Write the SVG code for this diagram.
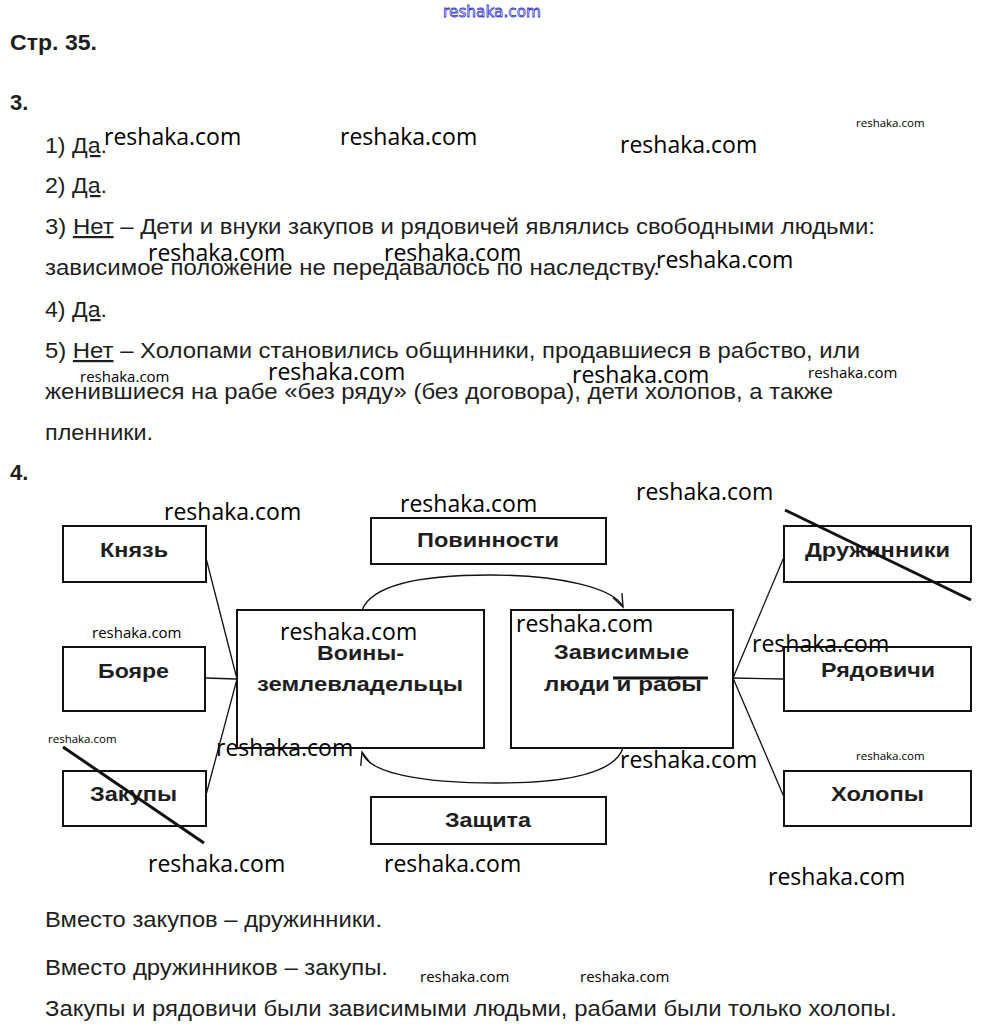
<svg xmlns="http://www.w3.org/2000/svg" width="982" height="1036" viewBox="0 0 982 1036">
<style>
.t{font-family:"Liberation Sans",Arial,sans-serif;font-size:22px;fill:#1e1e1e}
.h{font-family:"Liberation Sans",Arial,sans-serif;font-size:22px;font-weight:bold;fill:#1e1e1e}
.n{font-family:"Liberation Sans",Arial,sans-serif;font-size:21px;font-weight:bold;fill:#1e1e1e;text-anchor:start}
.box{fill:#fff;stroke:#111;stroke-width:2}
.c{fill:none;stroke:#111;stroke-width:1.3}
.x{stroke:#111;stroke-width:3;fill:none}
.wl{font-family:"Open Sans","Noto Sans",sans-serif;font-size:23px;fill:#000}
.wm{font-family:"Open Sans","Noto Sans",sans-serif;font-size:15px;fill:#000}
.ws{font-family:"Open Sans","Noto Sans",sans-serif;font-size:11.5px;fill:#000}
</style>
<defs>
<marker id="arr" markerUnits="userSpaceOnUse" markerWidth="30" markerHeight="30" refX="0" refY="0" viewBox="-15 -15 30 30" orient="auto">
<path d="M-13,-5 L0,0 L-13,5" fill="none" stroke="#111" stroke-width="1.4"/>
</marker>
</defs>
<rect width="982" height="1036" fill="#fff"/>

<text x="443" y="17" font-family="DejaVu Sans,sans-serif" font-size="16" fill="#fff" stroke="#3535d0" stroke-width="0.8" textLength="98" lengthAdjust="spacingAndGlyphs">reshaka.com</text>

<text class="h" x="10" y="50" textLength="87" lengthAdjust="spacingAndGlyphs">Стр. 35.</text>
<text class="h" x="10" y="110">3.</text>

<g id="answers3">
<text class="t" x="45" y="153" textLength="62" lengthAdjust="spacingAndGlyphs">1) <tspan text-decoration="underline">Да</tspan>.</text>
<text class="t" x="45" y="193" textLength="62" lengthAdjust="spacingAndGlyphs">2) <tspan text-decoration="underline">Да</tspan>.</text>
<text class="t" x="45" y="234" textLength="830" lengthAdjust="spacingAndGlyphs">3) <tspan text-decoration="underline">Нет</tspan> – Дети и внуки закупов и рядовичей являлись свободными людьми:</text>
<text class="t" x="45" y="275" textLength="615" lengthAdjust="spacingAndGlyphs">зависимое положение не передавалось по наследству.</text>
<text class="t" x="45" y="317" textLength="62" lengthAdjust="spacingAndGlyphs">4) <tspan text-decoration="underline">Да</tspan>.</text>
<text class="t" x="45" y="358" textLength="815" lengthAdjust="spacingAndGlyphs">5) <tspan text-decoration="underline">Нет</tspan> – Холопами становились общинники, продавшиеся в рабство, или</text>
<text class="t" x="45" y="399" textLength="788" lengthAdjust="spacingAndGlyphs">женившиеся на рабе «без ряду» (без договора), дети холопов, а также</text>
<text class="t" x="45" y="440" textLength="108" lengthAdjust="spacingAndGlyphs">пленники.</text>
</g>

<text class="h" x="10" y="480">4.</text>

<g id="connectors">
<line class="c" x1="206" y1="558" x2="237" y2="679"/>
<line class="c" x1="205" y1="678" x2="237" y2="679"/>
<line class="c" x1="206" y1="795" x2="237" y2="679"/>
<line class="c" x1="733" y1="678" x2="784" y2="557"/>
<line class="c" x1="733" y1="678" x2="784" y2="679"/>
<line class="c" x1="733" y1="678" x2="784" y2="797"/>
<path class="c" d="M362,610 C372,585 420,575 490,575 C560,575 614,588 623,607" marker-end="url(#arr)"/>
<path class="c" d="M623,748 C615,772 570,783 497,783 C420,783 368,773 362,752" marker-end="url(#arr)"/>
</g>

<g id="knyaz"><rect class="box" x="63" y="526" width="143" height="56"/><text class="n" x="100" y="557" textLength="68" lengthAdjust="spacingAndGlyphs">Князь</text></g>
<g id="boyare"><rect class="box" x="63" y="647" width="142" height="64"/><text class="n" x="98" y="678" textLength="71" lengthAdjust="spacingAndGlyphs">Бояре</text></g>
<g id="zakupy"><rect class="box" x="63" y="771" width="143" height="55"/><text class="n" x="90" y="801" textLength="87" lengthAdjust="spacingAndGlyphs">Закупы</text></g>
<g id="povinnosti"><rect class="box" x="371" y="518" width="235" height="46"/><text class="n" x="417" y="547" textLength="142" lengthAdjust="spacingAndGlyphs">Повинности</text></g>
<g id="zashchita"><rect class="box" x="371" y="797" width="235" height="47"/><text class="n" x="445" y="827" textLength="86" lengthAdjust="spacingAndGlyphs">Защита</text></g>
<g id="voiny"><rect class="box" x="237" y="610" width="247" height="138"/><text class="n" x="317" y="660" textLength="87" lengthAdjust="spacingAndGlyphs">Воины-</text><text class="n" x="257" y="691" textLength="206" lengthAdjust="spacingAndGlyphs">землевладельцы</text></g>
<g id="zavisimye"><rect class="box" x="511" y="610" width="222" height="138"/><text class="n" x="554" y="659" textLength="135" lengthAdjust="spacingAndGlyphs">Зависимые</text><text class="n" x="544" y="691" textLength="158" lengthAdjust="spacingAndGlyphs">люди и рабы</text><line class="x" x1="613" y1="678" x2="708" y2="678"/></g>
<g id="druzhinniki"><rect class="box" x="784" y="526" width="187" height="56"/><text class="n" x="805" y="557" textLength="145" lengthAdjust="spacingAndGlyphs">Дружинники</text></g>
<g id="ryadovichi"><rect class="box" x="784" y="647" width="187" height="64"/><text class="n" x="821" y="677" textLength="114" lengthAdjust="spacingAndGlyphs">Рядовичи</text></g>
<g id="holopy"><rect class="box" x="784" y="771" width="187" height="55"/><text class="n" x="831" y="801" textLength="93" lengthAdjust="spacingAndGlyphs">Холопы</text></g>

<g id="strikes">
<line class="x" x1="63" y1="747" x2="204" y2="843"/>
<line class="x" x1="785" y1="510" x2="971" y2="600"/>
</g>

<g id="answers4">
<text class="t" x="45" y="927" textLength="337" lengthAdjust="spacingAndGlyphs">Вместо закупов – дружинники.</text>
<text class="t" x="45" y="975" textLength="343" lengthAdjust="spacingAndGlyphs">Вместо дружинников – закупы.</text>
<text class="t" x="45" y="1016" textLength="852" lengthAdjust="spacingAndGlyphs">Закупы и рядовичи были зависимыми людьми, рабами были только холопы.</text>
</g>

<g id="watermarks">
<text class="wl" x="104" y="145">reshaka.com</text>
<text class="wl" x="340" y="145">reshaka.com</text>
<text class="wl" x="620" y="153">reshaka.com</text>
<text class="ws" x="856" y="127">reshaka.com</text>
<text class="wl" x="148" y="261">reshaka.com</text>
<text class="wl" x="384" y="261">reshaka.com</text>
<text class="wl" x="656" y="268">reshaka.com</text>
<text class="wm" x="80" y="382">reshaka.com</text>
<text class="wl" x="268" y="380">reshaka.com</text>
<text class="wl" x="572" y="383">reshaka.com</text>
<text class="wm" x="808" y="378">reshaka.com</text>
<text class="wl" x="400" y="512">reshaka.com</text>
<text class="wl" x="164" y="520">reshaka.com</text>
<text class="wl" x="636" y="500">reshaka.com</text>
<text class="wm" x="92" y="638">reshaka.com</text>
<text class="wl" x="280" y="640">reshaka.com</text>
<text class="wl" x="516" y="632">reshaka.com</text>
<text class="wl" x="752" y="652">reshaka.com</text>
<text class="ws" x="48" y="743">reshaka.com</text>
<text class="wl" x="216" y="756">reshaka.com</text>
<text class="wl" x="620" y="768">reshaka.com</text>
<text class="ws" x="856" y="760">reshaka.com</text>
<text class="wl" x="148" y="872">reshaka.com</text>
<text class="wl" x="384" y="872">reshaka.com</text>
<text class="wl" x="768" y="885">reshaka.com</text>
<text class="wm" x="420" y="982">reshaka.com</text>
<text class="wm" x="580" y="982">reshaka.com</text>
</g>
</svg>
